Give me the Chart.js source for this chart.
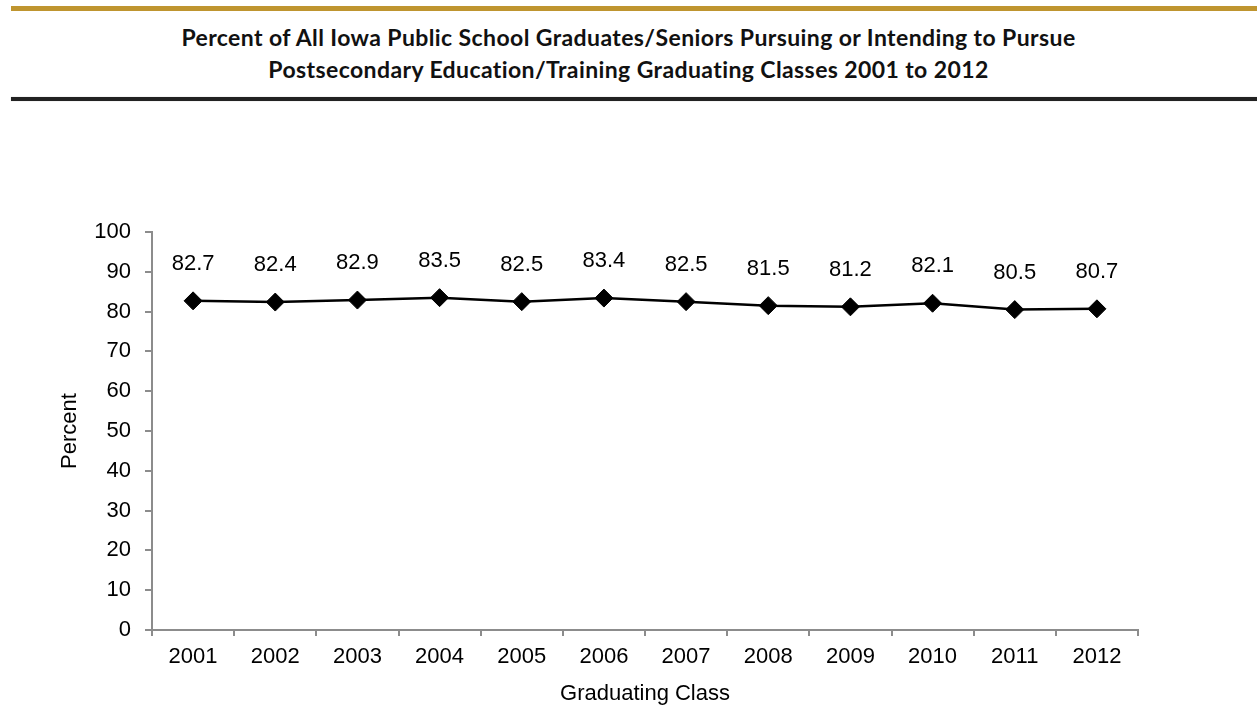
<!DOCTYPE html>
<html>
<head>
<meta charset="utf-8">
<script src="https://cdn.jsdelivr.net/npm/chart.js@4.4.1/dist/chart.umd.min.js"></script>
<style>
  html, body { margin: 0; padding: 0; background: #fff; }
  body { width: 1257px; height: 708px; position: relative; overflow: hidden; }
  .gold { position: absolute; left: 11px; right: 0; top: 6px; height: 5px; background: #bf952f; }
  .rule { position: absolute; left: 11px; right: 0; top: 97px; height: 4px; background: #222; box-shadow: 0 0 1px #999; }
  .title {
    position: absolute; left: 0; width: 1257px; top: 21px; text-align: center;
    font-family: Lato, "Open Sans", sans-serif; font-weight: bold; font-size: 23px;
    letter-spacing: 0.4px; line-height: 32px; color: #111;
  }
  #wrap { position: absolute; left: 0; top: 110px; width: 1257px; height: 598px; }
</style>
</head>
<body>
<div class="gold"></div>
<div class="title">Percent of All Iowa Public School Graduates/Seniors Pursuing or Intending to Pursue<br>Postsecondary Education/Training Graduating Classes 2001 to 2012</div>
<div class="rule"></div>
<div id="wrap"><canvas id="chart"></canvas></div>
<script>
// graduating classes and the percent pursuing postsecondary education
const years = ['2001', '2002', '2003', '2004', '2005', '2006', '2007', '2008', '2009', '2010', '2011', '2012'];
const percents = [82.7, 82.4, 82.9, 83.5, 82.5, 83.4, 82.5, 81.5, 81.2, 82.1, 80.5, 80.7];
const yTicks = [0, 10, 20, 30, 40, 50, 60, 70, 80, 90, 100];

const axisGrey = '#8c8c8c';
const font = '"Liberation Sans", Arial, sans-serif';

// draws the value above every point
const valueLabels = {
  id: 'valueLabels',
  afterDatasetsDraw(chart) {
    const ctx = chart.ctx;
    const meta = chart.getDatasetMeta(0);
    ctx.save();
    ctx.fillStyle = '#000';
    ctx.font = '22px ' + font;
    ctx.textAlign = 'center';
    ctx.textBaseline = 'middle';
    meta.data.forEach((pt, i) => {
      ctx.fillText(percents[i].toFixed(1), pt.x, pt.y - 37);
    });
    ctx.restore();
  }
};

new Chart(document.getElementById('chart'), {
  type: 'line',
  data: {
    labels: years,
    datasets: [{
      data: percents,
      borderColor: '#000',
      backgroundColor: '#000',
      borderWidth: 2.5,
      tension: 0,
      pointStyle: 'rectRot',
      pointRadius: 9,
      pointHoverRadius: 9,
      pointBorderWidth: 1
    }]
  },
  options: {
    responsive: true,
    maintainAspectRatio: false,
    animation: false,
    layout: { padding: { left: 0, right: 119, top: 122, bottom: 0 } },
    plugins: {
      legend: { display: false },
      tooltip: { enabled: false }
    },
    scales: {
      x: {
        offset: true,
        afterFit(axis) { axis.height = 78; },
        border: { color: axisGrey, width: 2 },
        grid: { offset: true, drawOnChartArea: false, drawTicks: true, tickLength: 6, color: axisGrey, lineWidth: 2 },
        ticks: { color: '#000', font: { family: font, size: 22 }, padding: 8, maxRotation: 0 },
        title: { display: true, text: 'Graduating Class', color: '#000', font: { family: font, size: 22 }, padding: { top: 0, bottom: 1 } }
      },
      y: {
        min: 0,
        max: 100,
        afterBuildTicks(axis) { axis.ticks = yTicks.map(v => ({ value: v })); },
        afterFit(axis) { axis.width = 152; },
        border: { color: axisGrey, width: 2 },
        grid: { drawOnChartArea: false, drawTicks: true, tickLength: 7, color: axisGrey, lineWidth: 2 },
        ticks: { color: '#000', font: { family: font, size: 22 }, padding: 14 },
        title: { display: true, text: 'Percent', color: '#000', font: { family: font, size: 22 }, padding: { top: 57, bottom: 0 } }
      }
    }
  },
  plugins: [valueLabels]
});
</script>
</body>
</html>
